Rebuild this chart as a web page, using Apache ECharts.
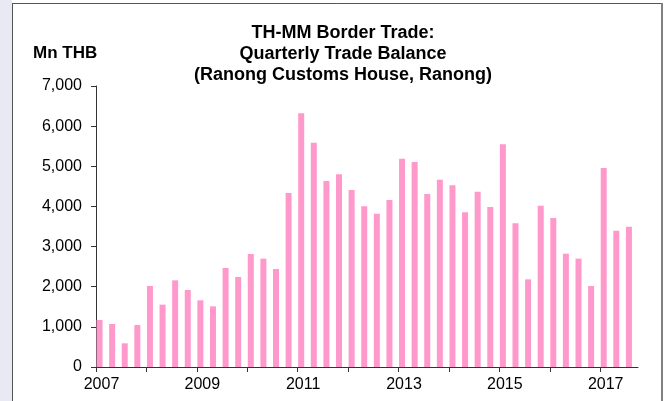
<!DOCTYPE html>
<html>
<head>
<meta charset="utf-8">
<script src="https://cdn.jsdelivr.net/npm/echarts@6/dist/echarts.min.js"></script>
<style>
  html, body { margin: 0; padding: 0; background: #fff; }
  #chart { width: 667px; height: 401px; }
</style>
</head>
<body>
<div id="chart"></div>
<script>
// Quarterly trade balance, Mn THB, 2007 Q1 .. 2017 Q3
const startYear = 2007;
const balance = [
  1171, 1071, 590, 1046,
  2018, 1553, 2159, 1918,
  1661, 1511, 2466, 2242,
  2815, 2699, 2441, 4335,
  6320, 5589, 4634, 4800,
  4410, 4003, 3820, 4160,
  5190, 5107, 4310, 4667,
  4526, 3853, 4368, 3986,
  5548, 3579, 2184, 4019,
  3712, 2823, 2699, 2018,
  4958, 3396, 3496
];
const yearTicks = [2007, 2008, 2009, 2010, 2011, 2012, 2013, 2014, 2015, 2016, 2017];
const yearLabels = [2007, 2009, 2011, 2013, 2015, 2017];

const FONT = "'Liberation Sans', Arial, sans-serif";

const chart = echarts.init(document.getElementById("chart"), null, { renderer: "canvas" });

// each bar sits a little right of the quarter start
const points = balance.map((v, i) => [startYear + i / 4 + 0.07, v]);

chart.setOption({
  backgroundColor: "#fff",
  animation: false,
  title: {
    text: "TH-MM Border Trade:\nQuarterly Trade Balance\n(Ranong Customs House, Ranong)",
    left: 338,
    top: 18,
    textAlign: "center",
    textStyle: { fontFamily: FONT, fontSize: 18, fontWeight: "bold", color: "#000", lineHeight: 21 }
  },
  graphic: [
    { type: "rect", shape: { x: 0, y: 0, width: 12, height: 401 }, style: { fill: "#e9e9f3" }, silent: true },
    { type: "line", shape: { x1: 12.5, y1: 3, x2: 12.5, y2: 401 }, style: { stroke: "#555", lineWidth: 1 }, silent: true },
    { type: "line", shape: { x1: 12.5, y1: 3.5, x2: 662, y2: 3.5 }, style: { stroke: "#555", lineWidth: 1 }, silent: true },
    { type: "line", shape: { x1: 662, y1: 3, x2: 662, y2: 401 }, style: { stroke: "#808080", lineWidth: 2 }, silent: true },
    {
      type: "text", left: 33, top: 45,
      style: { text: "Mn THB", font: "bold 17px " + FONT, fill: "#000" }
    }
  ],
  grid: { left: 96, top: 86, right: 29, bottom: 34, containLabel: false },
  xAxis: {
    type: "value",
    min: 2007,
    max: 2017.75,
    interval: 1,
    splitLine: { show: false },
    axisLine: { show: true, onZero: false, lineStyle: { color: "#333", width: 1 } },
    axisTick: { show: true, inside: false, length: 5, customValues: yearTicks, lineStyle: { color: "#333" } },
    axisLabel: {
      customValues: yearLabels,
      margin: 10,
      padding: [0, 0, 0, 11],
      fontFamily: FONT, fontSize: 16, color: "#000",
      formatter: v => String(v)
    }
  },
  yAxis: {
    type: "value",
    min: 0,
    max: 7000,
    interval: 1000,
    splitLine: { show: false },
    axisLine: { show: true, lineStyle: { color: "#333", width: 1 } },
    axisTick: { show: true, length: 5, lineStyle: { color: "#333" } },
    axisLabel: {
      margin: 14,
      fontFamily: FONT, fontSize: 16, color: "#000",
      formatter: v => v.toLocaleString("en-US")
    }
  },
  series: [{
    type: "bar",
    data: points,
    barWidth: 6,
    itemStyle: { color: "#ff99cc" }
  }]
});
</script>
</body>
</html>
